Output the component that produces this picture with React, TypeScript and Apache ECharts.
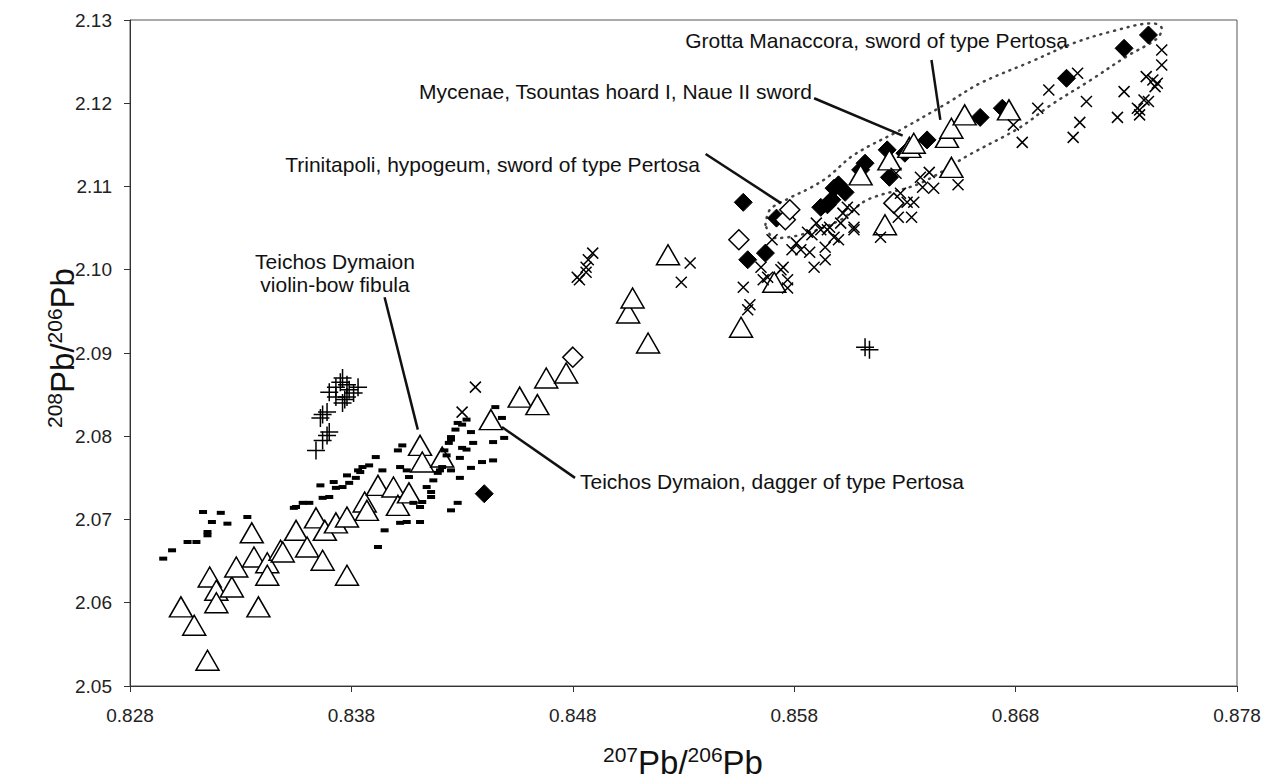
import React, { useEffect, useRef } from 'react';
import * as echarts from 'echarts';

// ---- data (207Pb/206Pb, 208Pb/206Pb) ----
const openTriangles: number[][] = [
  [0.8303, 2.0595], [0.8309, 2.0573], [0.8315, 2.0531], [0.8316, 2.0631], [0.8319, 2.0615],
  [0.8319, 2.06], [0.8326, 2.0619], [0.8328, 2.0643], [0.8338, 2.0595], [0.8335, 2.0684],
  [0.8336, 2.0655], [0.8342, 2.0648], [0.8342, 2.0633], [0.8348, 2.0663], [0.8349, 2.0661],
  [0.8355, 2.0687], [0.836, 2.0667], [0.8364, 2.0702], [0.8367, 2.0651], [0.8368, 2.0687],
  [0.8373, 2.0696], [0.8378, 2.0703], [0.8378, 2.0633], [0.8386, 2.0721], [0.8387, 2.0711],
  [0.8392, 2.0741], [0.8399, 2.0739], [0.8401, 2.0717], [0.8406, 2.0732], [0.8411, 2.0789],
  [0.8412, 2.0769], [0.8421, 2.0775], [0.8443, 2.082], [0.8456, 2.0847], [0.8464, 2.0838],
  [0.8468, 2.087], [0.8477, 2.0876], [0.8505, 2.0948], [0.8507, 2.0966], [0.8514, 2.0912],
  [0.8523, 2.1018], [0.8556, 2.0931], [0.8571, 2.0985], [0.861, 2.1114], [0.8621, 2.1054],
  [0.8623, 2.1132], [0.8632, 2.1147], [0.8634, 2.1152], [0.8649, 2.1159], [0.8651, 2.117],
  [0.8657, 2.1186], [0.8651, 2.1123], [0.8677, 2.1192]
];

const openDiamonds: number[][] = [
  [0.848, 2.0895], [0.8555, 2.1036], [0.8576, 2.106], [0.8578, 2.1072], [0.8625, 2.108]
];

const filledDiamonds: number[][] = [
  [0.844, 2.0731], [0.8557, 2.1081], [0.8559, 2.1012], [0.8567, 2.102], [0.8572, 2.1062],
  [0.8592, 2.1075], [0.8595, 2.1078], [0.8598, 2.1098], [0.86, 2.1102], [0.8597, 2.1084],
  [0.8603, 2.1093], [0.861, 2.112], [0.8612, 2.1128], [0.8623, 2.1111], [0.8622, 2.1144],
  [0.863, 2.114], [0.864, 2.1156], [0.8664, 2.1183], [0.8674, 2.1194], [0.8703, 2.123],
  [0.8729, 2.1266], [0.874, 2.1282]
];

const crosses: number[][] = [
  [0.8708, 2.1236], [0.8695, 2.1216], [0.869, 2.1194], [0.8679, 2.1174], [0.8683, 2.1153],
  [0.8712, 2.1202], [0.8709, 2.1177], [0.8706, 2.1159], [0.8729, 2.1214], [0.8726, 2.1183],
  [0.8746, 2.1264], [0.8746, 2.1246], [0.8739, 2.1232], [0.8742, 2.1228], [0.8744, 2.1224],
  [0.8743, 2.122], [0.8738, 2.1204], [0.874, 2.1202], [0.8736, 2.1192], [0.8735, 2.1194],
  [0.8736, 2.1186],
  [0.8641, 2.1117], [0.8637, 2.1111], [0.8638, 2.1099], [0.8643, 2.1098], [0.8654, 2.1102],
  [0.8628, 2.1092], [0.8634, 2.1081], [0.8633, 2.1063], [0.8627, 2.1063], [0.8619, 2.1039],
  [0.8607, 2.1072], [0.8604, 2.1075], [0.8601, 2.1056], [0.8607, 2.1051], [0.8596, 2.1051],
  [0.86, 2.1036], [0.8592, 2.1048], [0.8594, 2.1027], [0.857, 2.1036], [0.8565, 2.1003],
  [0.8557, 2.0979], [0.856, 2.0958], [0.8559, 2.0952], [0.8568, 2.0991], [0.8575, 2.1003],
  [0.8577, 2.0988], [0.8577, 2.0978], [0.8579, 2.1024], [0.8581, 2.1032], [0.8586, 2.1045],
  [0.8588, 2.1042], [0.859, 2.1056], [0.8595, 2.1048], [0.8598, 2.1039], [0.8587, 2.1021],
  [0.8589, 2.1003], [0.8594, 2.1012], [0.8602, 2.1068], [0.8607, 2.1048], [0.8631, 2.1081],
  [0.8626, 2.1116], [0.8566, 2.0988], [0.8574, 2.1], [0.8583, 2.1024],
  [0.8489, 2.102], [0.8487, 2.1012], [0.8486, 2.1003], [0.8486, 2.0997], [0.8482, 2.0991],
  [0.8483, 2.0988], [0.8533, 2.1008], [0.8529, 2.0985], [0.8436, 2.0859], [0.843, 2.0829]
];

const pluses: number[][] = [
  [0.8364, 2.0783], [0.8367, 2.0795], [0.8369, 2.0801], [0.837, 2.0805], [0.8366, 2.0822],
  [0.8367, 2.0826], [0.8369, 2.0829], [0.837, 2.0853], [0.8373, 2.0859], [0.8375, 2.0865],
  [0.8376, 2.087], [0.8378, 2.0862], [0.8379, 2.0856], [0.8381, 2.0852], [0.8383, 2.0859],
  [0.8378, 2.0847], [0.8377, 2.0844], [0.8376, 2.084], [0.8373, 2.0847],
  [0.8612, 2.0907], [0.8614, 2.0904]
];

const dashes: number[][] = [
  [0.8295, 2.0653], [0.8299, 2.0663], [0.8306, 2.0673], [0.831, 2.0673], [0.8313, 2.0709],
  [0.8315, 2.0681], [0.8315, 2.0685], [0.8317, 2.0697], [0.8321, 2.0708], [0.8324, 2.0695],
  [0.8333, 2.0703], [0.8355, 2.0715], [0.8358, 2.072], [0.8361, 2.072], [0.8366, 2.0741],
  [0.8367, 2.0726], [0.837, 2.0727], [0.8372, 2.0745], [0.8373, 2.0738], [0.8376, 2.0739],
  [0.8379, 2.0744], [0.8378, 2.0753], [0.8383, 2.0759], [0.8385, 2.0763], [0.8388, 2.0765],
  [0.8391, 2.0775], [0.8394, 2.0759], [0.8401, 2.0783], [0.8403, 2.0789], [0.8402, 2.0763],
  [0.8405, 2.0759], [0.8406, 2.0751], [0.8408, 2.072], [0.8411, 2.0715], [0.8402, 2.0696],
  [0.8405, 2.0697], [0.8395, 2.0687], [0.8392, 2.0667], [0.8411, 2.0697], [0.8414, 2.0739],
  [0.8416, 2.0733], [0.8417, 2.0747], [0.8419, 2.0756], [0.842, 2.0759], [0.8421, 2.0763],
  [0.8422, 2.0783], [0.8424, 2.0792], [0.8425, 2.0799], [0.8427, 2.0808], [0.8428, 2.0816],
  [0.843, 2.0814], [0.8432, 2.082], [0.8434, 2.0805], [0.843, 2.0786], [0.8429, 2.0774],
  [0.8429, 2.075], [0.8425, 2.0711], [0.8428, 2.072], [0.8434, 2.0762], [0.8439, 2.0769],
  [0.8444, 2.0771], [0.8444, 2.0793], [0.8445, 2.0835], [0.8448, 2.0822], [0.8449, 2.0798],
  [0.8425, 2.0759], [0.8416, 2.0727], [0.8412, 2.0721], [0.8354, 2.0714], [0.8384, 2.0757],
  [0.8382, 2.075], [0.8423, 2.0777], [0.8425, 2.0796], [0.8435, 2.0792], [0.8432, 2.0784]
];

const envelope: number[][] = [
  [0.8567, 2.1054], [0.8569, 2.1072], [0.8577, 2.1085], [0.8587, 2.1098], [0.8595, 2.1111],
  [0.8607, 2.1138], [0.8628, 2.1168], [0.8649, 2.12], [0.8664, 2.1224], [0.8687, 2.125],
  [0.8706, 2.1272], [0.8723, 2.1286], [0.8742, 2.1296], [0.8746, 2.129], [0.8744, 2.1278],
  [0.873, 2.1256], [0.8714, 2.1228], [0.8696, 2.1198], [0.8682, 2.1171], [0.8659, 2.1138],
  [0.8637, 2.1104], [0.8613, 2.1084], [0.8601, 2.106], [0.8583, 2.1042], [0.8571, 2.1038],
  [0.8567, 2.1054]
];

const leaderGrotta: number[][] = [[0.8642, 2.1252], [0.8646, 2.118]];
const leaderMycenae: number[][] = [[0.8589, 2.1206], [0.8629, 2.1161]];
const leaderTrinitapoli: number[][] = [[0.854, 2.1139], [0.8574, 2.108]];
const leaderFibula: number[][] = [[0.8395, 2.0967], [0.841, 2.0808]];
const leaderDagger: number[][] = [[0.8448, 2.0811], [0.8481, 2.075]];

const labelGrotta = 'Grotta Manaccora, sword of type Pertosa';
const labelMycenae = 'Mycenae, Tsountas hoard I, Naue II sword';
const labelTrinitapoli = 'Trinitapoli, hypogeum, sword of type Pertosa';
const labelFibula1 = 'Teichos Dymaion';
const labelFibula2 = 'violin-bow fibula';
const labelDagger = 'Teichos Dymaion, dagger of type Pertosa';

const FONT = "'Liberation Sans', Arial, sans-serif";

export default function App() {
  const ref = useRef<HTMLDivElement>(null);
  useEffect(() => {
    if (!ref.current) return;
    const chart = echarts.init(ref.current, undefined, { renderer: 'svg' });
    const leader = (d: number[][]) => ({
      type: 'line', data: d, symbol: 'none', silent: true, z: 5,
      lineStyle: { color: '#111', width: 2.5 }
    });
    const ann = (text: string, x: number, y: number, align: string) => ({
      type: 'text', x, y, z: 100,
      style: { text, fill: '#111', font: `21px ${FONT}`, align, verticalAlign: 'middle' }
    });
    const rich = {
      s: { fontSize: 21, lineHeight: 20, verticalAlign: 'top', fontFamily: FONT, fill: '#111' },
      b: { fontSize: 33, lineHeight: 36, fontFamily: FONT, fill: '#111' }
    };
    chart.setOption({
      animation: false,
      backgroundColor: '#fff',
      grid: { left: 130, right: 37, top: 20, bottom: 96, show: true, borderColor: '#555', borderWidth: 1 },
      xAxis: {
        type: 'value', min: 0.828, max: 0.878, interval: 0.01,
        axisLine: { show: true, lineStyle: { color: '#333', width: 1 } },
        axisTick: { show: true, inside: false, length: 6, lineStyle: { color: '#333' } },
        splitLine: { show: false },
        axisLabel: { color: '#222', fontSize: 19, fontFamily: FONT, margin: 20, formatter: (v: number) => v.toFixed(3) }
      },
      yAxis: {
        type: 'value', min: 2.05, max: 2.13, interval: 0.01,
        axisLine: { show: true, lineStyle: { color: '#333', width: 1 } },
        axisTick: { show: true, inside: false, length: 6, lineStyle: { color: '#333' } },
        splitLine: { show: false },
        axisLabel: { color: '#222', fontSize: 19, fontFamily: FONT, margin: 18, formatter: (v: number) => v.toFixed(2) }
      },
      series: [
        {
          type: 'line', data: envelope, symbol: 'none', smooth: 0.35, silent: true, z: 1,
          lineStyle: { color: '#444', width: 2.5, type: [1, 6], cap: 'round' }
        },
        {
          type: 'scatter', data: filledDiamonds, symbol: 'diamond', symbolSize: 18, z: 2,
          itemStyle: { color: '#000', borderColor: '#000', borderWidth: 1, opacity: 1 }
        },
        {
          type: 'scatter', data: openDiamonds, symbol: 'diamond', symbolSize: 20, z: 2,
          itemStyle: { color: '#fff', borderColor: '#000', borderWidth: 1.5, opacity: 1 }
        },
        {
          type: 'scatter', data: openTriangles, symbol: 'triangle', symbolSize: [23, 20], z: 2,
          itemStyle: { color: '#fff', borderColor: '#000', borderWidth: 1.5, opacity: 1 }
        },
        {
          type: 'scatter', data: dashes, symbol: 'rect', symbolSize: [8, 4], z: 2,
          itemStyle: { color: '#000', opacity: 1 }
        },
        {
          type: 'scatter', data: crosses, symbol: 'path://M0,0L10,10M10,0L0,10', symbolSize: 11, z: 2,
          itemStyle: { color: 'none', borderColor: '#000', borderWidth: 1.5, opacity: 1 }
        },
        {
          type: 'scatter', data: pluses, symbol: 'path://M5,0L5,10M0,5L10,5', symbolSize: 18, z: 2,
          itemStyle: { color: 'none', borderColor: '#000', borderWidth: 1.5, opacity: 1 }
        },
        leader(leaderGrotta),
        leader(leaderMycenae),
        leader(leaderTrinitapoli),
        leader(leaderFibula),
        leader(leaderDagger)
      ],
      graphic: [
        ann(labelGrotta, 1068, 40, 'right'),
        ann(labelMycenae, 812, 91, 'right'),
        ann(labelTrinitapoli, 700, 164, 'right'),
        ann(labelFibula1, 335, 261, 'center'),
        ann(labelFibula2, 335, 284, 'center'),
        ann(labelDagger, 580, 481, 'left'),
        {
          type: 'text', x: 683, y: 762, z: 100,
          style: { text: '{s|207}{b|Pb/}{s|206}{b|Pb}', rich, align: 'center', verticalAlign: 'middle' }
        },
        {
          type: 'text', x: 62, y: 348, rotation: Math.PI / 2, z: 100,
          style: { text: '{s|208}{b|Pb/}{s|206}{b|Pb}', rich, align: 'center', verticalAlign: 'middle' }
        }
      ]
    });
    return () => chart.dispose();
  }, []);
  return <div ref={ref} style={{ position: 'absolute', left: 0, top: 0, width: 1274, height: 782 }} />;
}
